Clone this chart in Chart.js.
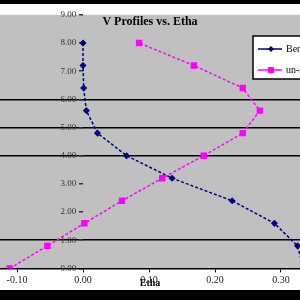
<!DOCTYPE html>
<html>
<head>
<meta charset="utf-8">
<script src="https://cdn.jsdelivr.net/npm/chart.js@4/dist/chart.umd.min.js"></script>
<style>
  html, body { margin: 0; padding: 0; background: #000; width: 300px; height: 300px; overflow: hidden; }
  #wrap { position: absolute; left: 0; top: 4px; width: 300px; height: 286px; background: #fff; }
</style>
</head>
<body>
<div id="wrap"><canvas id="myChart" width="300" height="286"></canvas></div>
<script>
// data
const heights = [0, 0.8, 1.6, 2.4, 3.2, 4.0, 4.8, 5.6, 6.4, 7.2, 8.0];
const benchV = [0.334, 0.325, 0.29, 0.226, 0.135, 0.066, 0.022, 0.005, 0.001, 0.0, 0.0];
const unV = [-0.111, -0.054, 0.002, 0.059, 0.12, 0.183, 0.242, 0.268, 0.242, 0.168, 0.085];
const seriesNames = ['Benchmark', 'un-stretched'];
const xTicks = [-0.1, 0, 0.1, 0.2, 0.3];
const yTicks = [0, 1, 2, 3, 4, 5, 6, 7, 8, 9];
const darkLines = [1, 4, 5, 6];

const serif = "'Liberation Serif', 'DejaVu Serif', serif";

// grey plot area
const plotBg = {
  id: 'plotBg',
  beforeDraw(chart) {
    const {ctx, chartArea: a} = chart;
    ctx.save();
    ctx.fillStyle = '#c0c0c0';
    ctx.fillRect(a.left, a.top, a.right - a.left, a.bottom - a.top);
    ctx.restore();
  }
};

// excel style legend box sitting inside the plot
const boxLegend = {
  id: 'boxLegend',
  afterDatasetsDraw(chart) {
    const ctx = chart.ctx;
    ctx.save();
    ctx.fillStyle = '#fff';
    ctx.strokeStyle = '#000';
    ctx.lineWidth = 1.5;
    ctx.fillRect(253, 32, 70, 43);
    ctx.strokeRect(253, 32, 70, 43);
    chart.data.datasets.forEach((ds, i) => {
      const y = 45 + i * 21;
      ctx.strokeStyle = ds.borderColor;
      ctx.lineWidth = 1.5;
      ctx.beginPath();
      ctx.moveTo(258, y);
      ctx.lineTo(282, y);
      ctx.stroke();
      ctx.fillStyle = ds.backgroundColor;
      ctx.beginPath();
      if (ds.pointStyle === 'rect') {
        ctx.rect(268, y - 3, 6, 6);
      } else {
        ctx.moveTo(271, y - 3); ctx.lineTo(274, y); ctx.lineTo(271, y + 3); ctx.lineTo(268, y);
        ctx.closePath();
      }
      ctx.fill();
      ctx.fillStyle = '#000';
      ctx.font = '10px ' + serif;
      ctx.textBaseline = 'middle';
      ctx.fillText(ds.label, 286, y);
    });
    ctx.restore();
  }
};

const data = {
  datasets: [{
    label: seriesNames[0],
    data: heights.map((h, i) => ({x: benchV[i], y: h})),
    borderColor: '#000080',
    backgroundColor: '#000080',
    borderWidth: 1.5,
    borderDash: [3, 2],
    pointStyle: 'rectRot',
    pointRadius: 2.5,
    showLine: true
  }, {
    label: seriesNames[1],
    data: heights.map((h, i) => ({x: unV[i], y: h})),
    borderColor: '#ff00ff',
    backgroundColor: '#ff00ff',
    borderWidth: 1.5,
    borderDash: [3, 2],
    pointStyle: 'rect',
    pointRadius: 3.5,
    showLine: true
  }]
};

const config = {
  type: 'scatter',
  data,
  options: {
    responsive: false,
    devicePixelRatio: 1,
    animation: false,
    layout: { padding: 0, autoPadding: false },
    plugins: {
      legend: { display: false },
      tooltip: { enabled: false },
      title: {
        display: true,
        text: 'V Profiles vs. Etha',
        color: '#000',
        font: { family: serif, size: 12, weight: 'bold' },
        padding: { top: 11, bottom: -14.6 }
      }
    },
    scales: {
      x: {
        type: 'linear',
        min: -0.1258,
        max: 0.3288,
        position: 'bottom',
        afterBuildTicks: s => { s.ticks = xTicks.map(v => ({value: v})); },
        ticks: {
          callback: v => v.toFixed(2),
          font: { family: serif, size: 10 },
          color: '#222',
          padding: 2,
          maxRotation: 0
        },
        grid: { color: 'transparent', tickColor: '#000', tickLength: 4 },
        border: { display: true, color: '#000', width: 1.5 },
        title: {
          display: true,
          text: 'Etha',
          color: '#000',
          font: { family: serif, size: 10, weight: 'bold' },
          padding: { top: -11.4, bottom: 1 }
        }
      },
      y: {
        type: 'linear',
        min: 0,
        max: 9,
        position: { x: 0 },
        afterBuildTicks: s => { s.ticks = yTicks.map(v => ({value: v})); },
        ticks: {
          callback: v => v.toFixed(2) + '   ',
          font: { family: serif, size: 9 },
          color: '#333'
        },
        grid: {
          color: c => darkLines.includes(c.tick && c.tick.value) ? '#000' : 'transparent',
          lineWidth: 1.5,
          tickColor: '#333',
          tickLength: 4
        },
        border: { display: false }
      }
    }
  },
  plugins: [plotBg, boxLegend]
};

const myChart = new Chart(document.getElementById('myChart'), config);
</script>
</body>
</html>
